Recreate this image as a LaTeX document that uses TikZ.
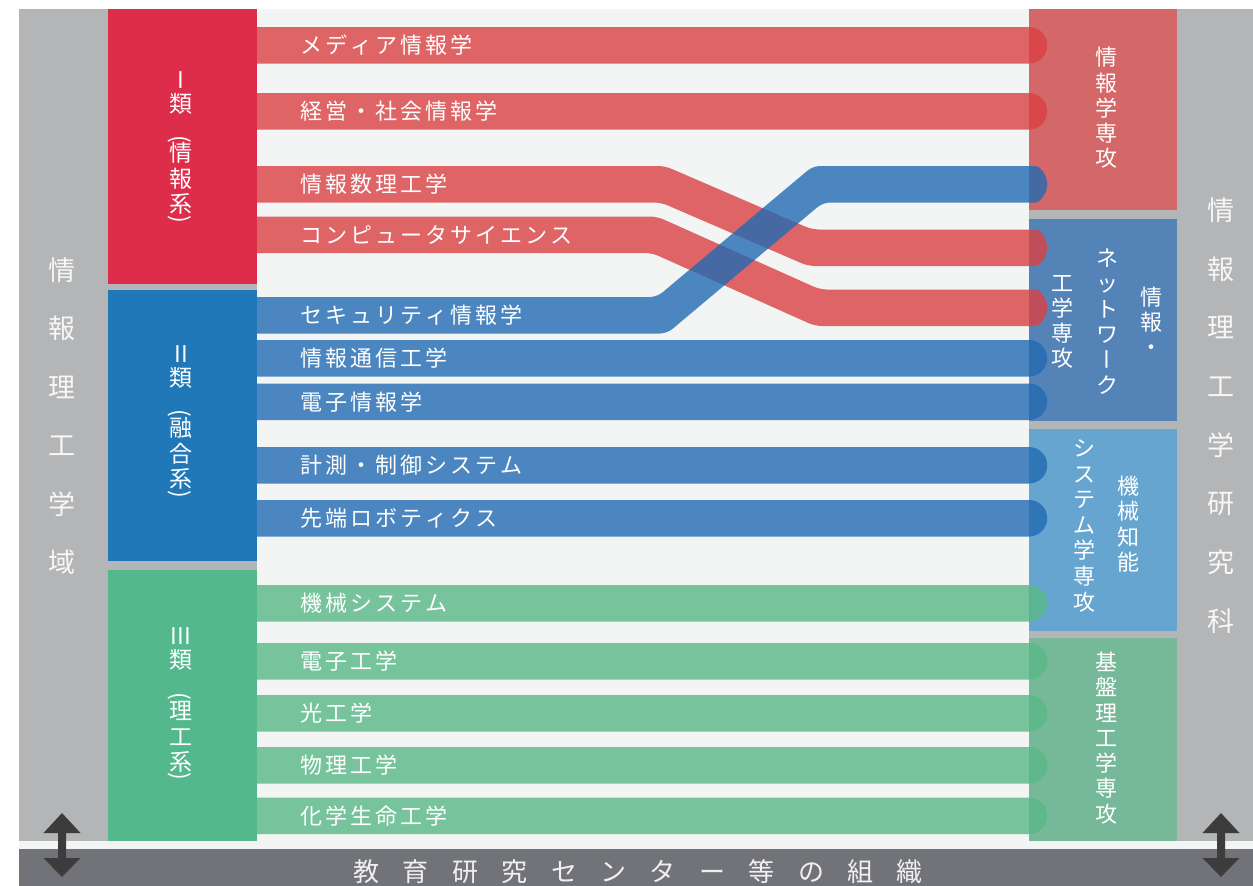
\documentclass[tikz,border=0pt]{standalone}
\usepackage{fontspec}
\setmainfont{Noto Sans CJK JP}
\definecolor{bgl}{HTML}{F3F4F4}
\definecolor{gcol}{HTML}{B4B5B7}
\definecolor{darkbar}{HTML}{727378}
\definecolor{arrc}{HTML}{3C3C3C}
\definecolor{boxR}{HTML}{DD2D4A}
\definecolor{boxB}{HTML}{2178B8}
\definecolor{boxG}{HTML}{53B98C}
\definecolor{rbR}{HTML}{D46767}
\definecolor{rbB}{HTML}{5483B7}
\definecolor{rbL}{HTML}{66A5D0}
\definecolor{rbG}{HTML}{75B999}
\definecolor{bandred}{HTML}{DB4043}
\definecolor{bandblue}{HTML}{226BB3}
\definecolor{bandgreen}{HTML}{59B886}
\ExplSyntaxOn
\NewDocumentCommand\sptxt{mm}{\tl_map_inline:nn{#2}{##1\hspace{#1}}}
\ExplSyntaxOff
\tikzset{
  bandR/.style={fill=bandred, fill opacity=.8},
  bandB/.style={fill=bandblue, fill opacity=.8},
  bandG/.style={fill=bandgreen, fill opacity=.8},
  bandtxt/.style={anchor=west, inner sep=0pt, text=white, font=\fontsize{22}{22}\selectfont, text height=19.4pt, text depth=2.6pt},
  vtxt/.style={inner sep=0pt, text=white, font=\fontsize{22}{22}\selectfont, text height=19.4pt, text depth=2.6pt},
  ltxt/.style={inner sep=0pt, text=white, font=\fontsize{23}{23}\selectfont, text height=20.2pt, text depth=2.8pt},
  coltxt/.style={inner sep=0pt, text=white!94!gray, font=\fontsize{27}{27}\selectfont, text height=23.8pt, text depth=3.2pt},
  bartxt/.style={inner sep=0pt, text=white!88!gray, font=\fontsize{26}{26}\selectfont, text height=22.9pt, text depth=3.1pt},
}
\newcommand\bandS[3]{%
  \fill[#1] (230,#2) -- (1029,#2) arc[start angle=90,end angle=-90,radius=18.25pt] -- (230,{#2+36.5}) -- cycle;
  \node[bandtxt] at (300,{#2+18.25}) {\sptxt{3pt}{#3}};}
\newcommand\vcol[5]{%
  \foreach \c/\r [count=\i from 0] in {#4}
    \node[#5, rotate=\r] at (#1,{#2+#3*\i}) {\c};}
\begin{document}
\begin{tikzpicture}[x=1pt,y=-1pt]
\useasboundingbox (0,0) rectangle (1253,886);
\fill[white] (0,0) rectangle (1253,886);
% backgrounds
\fill[bgl] (19,9) rectangle (1253,849);
\fill[gcol] (19,9) rectangle (257,841);
\fill[gcol] (1029,9) rectangle (1253,841);
\fill[darkbar] (19,849) rectangle (1253,886);
% right boxes
\fill[rbR] (1029,9) rectangle (1177,210);
\fill[rbB] (1029,219) rectangle (1177,421);
\fill[rbL] (1029,429) rectangle (1177,631);
\fill[rbG] (1029,638) rectangle (1177,841);
% crossing bands
\fill[bandR, rounded corners=7pt] (230,166) -- (665,166) -- (812,229.5) -- (1029,229.5)
   arc[start angle=90,end angle=-90,radius=18.25pt] -- (808,266) -- (661,202.5) -- (230,202.5) -- cycle;
\fill[bandR, rounded corners=7pt] (230,216.5) -- (657,216.5) -- (820,289.5) -- (1029,289.5)
   arc[start angle=90,end angle=-90,radius=18.25pt] -- (815,326) -- (652,253) -- (230,253) -- cycle;
\fill[bandB, rounded corners=7pt] (230,297) -- (657,297) -- (813,166) -- (1029,166)
   arc[start angle=90,end angle=-90,radius=18.25pt] -- (823,202.5) -- (667,333.5) -- (230,333.5) -- cycle;
\node[bandtxt] (jsr) at (300,184.25) {\sptxt{3pt}{情報数理工学}};
\node[bandtxt] (cs) at (300,234.75) {\sptxt{3pt}{コンピュータサイエンス}};
\node[bandtxt] (sec) at (300,315.25) {\sptxt{3pt}{セキュリティ情報学}};
% straight bands
\bandS{bandR}{27}{メディア情報学}
\bandS{bandR}{93}{経営・社会情報学}
\bandS{bandB}{340}{情報通信工学}
\bandS{bandB}{383.5}{電子情報学}
\bandS{bandB}{447}{計測・制御システム}
\bandS{bandB}{500}{先端ロボティクス}
\bandS{bandG}{585}{機械システム}
\bandS{bandG}{643}{電子工学}
\bandS{bandG}{695}{光工学}
\bandS{bandG}{747}{物理工学}
\bandS{bandG}{797.5}{化学生命工学}
% left boxes
\fill[boxR] (108,9) rectangle (257,284);
\fill[boxB] (108,290) rectangle (257,561);
\fill[boxG] (108,570) rectangle (257,841);
% class I
\node[ltxt] (r1) at (181,80) {I};
\node[ltxt] (r2) at (181,104) {類};
\node[ltxt, rotate=-90] (r3) at (181,139) {(};
\node[ltxt] (r4) at (181,153) {情};
\node[ltxt] (r5) at (181,179) {報};
\node[ltxt] (r6) at (181,204) {系};
\node[ltxt, rotate=-90] (r7) at (181,219) {)};
% class II
\node[ltxt] (b1) at (181,354) {II};
\node[ltxt] (b2) at (181,378) {類};
\node[ltxt, rotate=-90] (b3) at (181,413) {(};
\node[ltxt] (b4) at (181,428) {融};
\node[ltxt] (b5) at (181,454) {合};
\node[ltxt] (b6) at (181,479) {系};
\node[ltxt, rotate=-90] (b7) at (181,494) {)};
% class III
\node[ltxt] (g1) at (181,636) {III};
\node[ltxt] (g2) at (181,660) {類};
\node[ltxt, rotate=-90] (g3) at (181,696) {(};
\node[ltxt] (g4) at (181,711) {理};
\node[ltxt] (g5) at (181,737) {工};
\node[ltxt] (g6) at (181,762) {系};
\node[ltxt, rotate=-90] (g7) at (181,776) {)};
% left gray column text
\node[coltxt] (L1) at (62,270) {情};
\node[coltxt] (L2) at (62,328.5) {報};
\node[coltxt] (L3) at (62,387) {理};
\node[coltxt] (L4) at (62,445.5) {工};
\node[coltxt] (L5) at (62,504) {学};
\node[coltxt] (L6) at (62,562.5) {域};
% right gray column text
\vcol{1221}{210}{58.7}{情/0,報/0,理/0,工/0,学/0,研/0,究/0,科/0}{coltxt}
% right box texts
\vcol{1106}{57.5}{25.2}{情/0,報/0,学/0,専/0,攻/0}{vtxt}
\vcol{1151}{297}{25}{情/0,報/0,・/0}{vtxt}
\vcol{1107}{258}{25.4}{ネ/0,ッ/0,ト/0,ワ/0,ー/-90,ク/0}{vtxt}
\vcol{1062}{283}{25}{工/0,学/0,専/0,攻/0}{vtxt}
\vcol{1128}{486}{25.3}{機/0,械/0,知/0,能/0}{vtxt}
\vcol{1084}{448}{25.6}{シ/0,ス/0,テ/0,ム/0,学/0,専/0,攻/0}{vtxt}
\vcol{1106}{662}{25.3}{基/0,盤/0,理/0,工/0,学/0,専/0,攻/0}{vtxt}
% bottom bar text
\foreach \c [count=\i from 0] in {教,育,研,究,セ,ン,タ,ー,等,の,組,織}
  \node[bartxt] (t\i) at ({366.5+49.4*\i},871.5) {\c};
% arrows
\foreach \cx/\nm in {62/al,1221/ar}{
  \fill[arrc] (\cx,813) -- ({\cx+18.5},833) -- ({\cx+4},833) -- ({\cx+4},858) -- ({\cx+18.5},858)
    -- (\cx,877) -- ({\cx-18.5},858) -- ({\cx-4},858) -- ({\cx-4},833) -- ({\cx-18.5},833) -- cycle;
  \coordinate (\nm) at (\cx,845);
}
\end{tikzpicture}
\end{document}
